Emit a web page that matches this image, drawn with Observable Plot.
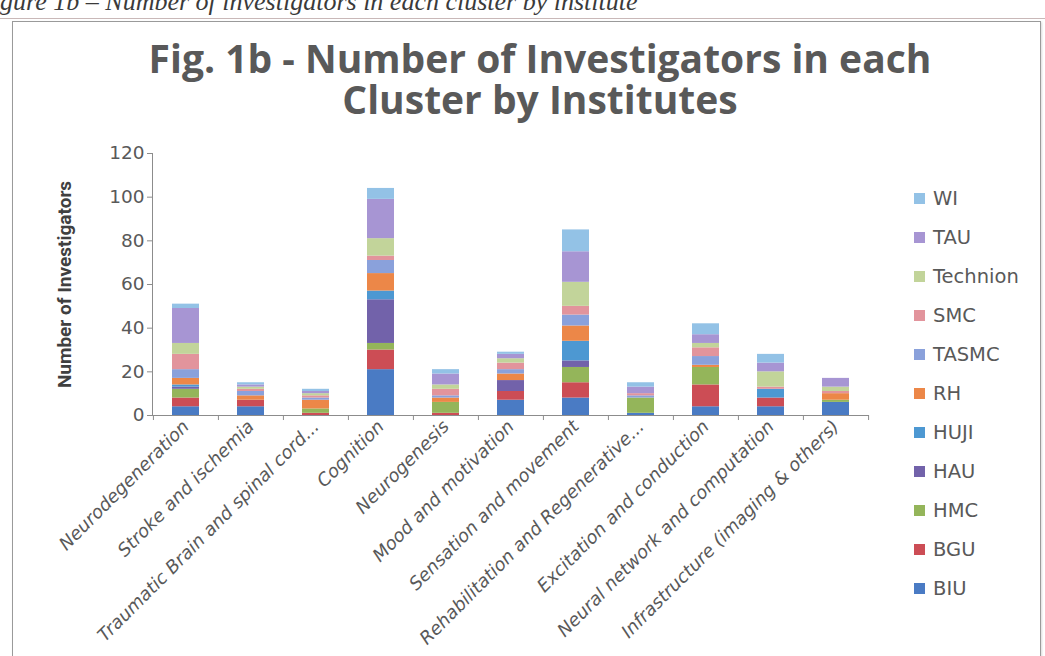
<!DOCTYPE html>
<html>
<head>
<meta charset="utf-8">
<script src="https://cdn.jsdelivr.net/npm/d3@7"></script>
<script src="https://cdn.jsdelivr.net/npm/@observablehq/plot@0.6"></script>
<style>
  html, body { margin: 0; padding: 0; background: #fff; }
  #page { position: relative; width: 1045px; height: 656px; overflow: hidden; background: #fff; }
  #doc-caption {
    position: absolute; left: -23px; top: -11px; white-space: nowrap;
    font-family: "Liberation Serif", "DejaVu Serif", serif; font-style: italic;
    font-size: 26px; line-height: 26px; color: #3a3a3a;
  }
  #doc-rule { position: absolute; left: 0; top: 18px; width: 1045px; height: 1px; background: #c9b8b8; }
  #frame { position: absolute; left: 12px; top: 21px; width: 1027px; height: 700px; border: 1px solid #9a9a9a; box-shadow: 1px 1px 2px rgba(0,0,0,0.15); }
  .title-line {
    position: absolute; left: 40px; width: 1000px; text-align: center; white-space: nowrap;
    font-family: "Open Sans", sans-serif; font-weight: 700; font-size: 39px; line-height: 38px; color: #595959;
  }
  #chart { position: absolute; left: 0; top: 140px; }
  #legend { position: absolute; left: 914px; top: 179px; font-family: "DejaVu Sans", sans-serif; font-size: 19.5px; color: #595959; }
  .item { display: flex; align-items: center; height: 39px; white-space: nowrap; }
  .sw { width: 11px; height: 11px; margin-right: 8px; }
</style>
</head>
<body>
<div id="page">
  <div id="doc-caption">Figure 1b – Number of investigators in each cluster by institute</div>
  <div id="doc-rule"></div>
  <div id="frame"></div>
  <div class="title-line" style="top:39px">Fig. 1b - Number of Investigators in each</div>
  <div class="title-line" style="top:80px">Cluster by Institutes</div>
  <div id="chart"></div>
  <div id="legend"></div>
</div>
<script>
// Research clusters along the x axis
const clusters = [
  "Neurodegeneration",
  "Stroke and ischemia",
  "Traumatic Brain and spinal cord...",
  "Cognition",
  "Neurogenesis",
  "Mood and motivation",
  "Sensation and movement",
  "Rehabilitation and Regenerative...",
  "Excitation and conduction",
  "Neural network and computation",
  "Infrastructure (imaging & others)"
];

// Institutes, in stacking order (bottom to top)
const institutes = ["BIU", "BGU", "HMC", "HAU", "HUJI", "RH", "TASMC", "SMC", "Technion", "TAU", "WI"];
const instituteColors = ["#4a7bc4", "#cc4d55", "#94b55a", "#7262aa", "#4d98d2", "#ec8748", "#8aa1db", "#e2949c", "#c2d49a", "#a795d3", "#93c2e6"];

// Investigators per cluster, one array per institute
const BIU      = [4, 4, 0, 21, 0, 7, 8, 1, 4, 4, 6];
const BGU      = [4, 3, 1, 9, 1, 4, 7, 0, 10, 4, 0];
const HMC      = [4, 0, 2, 3, 5, 0, 7, 7, 8, 0, 1];
const HAU      = [1, 0, 0, 20, 0, 5, 3, 0, 0, 0, 0];
const HUJI     = [1, 0, 0, 4, 0, 0, 9, 0, 0, 4, 0];
const RH       = [3, 2, 4, 8, 2, 3, 7, 0, 1, 0, 3];
const TASMC    = [4, 2, 1, 6, 1, 2, 5, 1, 4, 0, 0];
const SMC      = [7, 1, 1, 2, 3, 3, 4, 1, 4, 1, 1];
const Technion = [5, 1, 1, 8, 2, 2, 11, 0, 2, 7, 2];
const TAU      = [16, 1, 1, 18, 5, 2, 14, 3, 4, 4, 4];
const WI       = [2, 1, 1, 5, 2, 1, 10, 2, 5, 4, 0];

const yTicks = [0, 20, 40, 60, 80, 100, 120];
const yLabel = "Number of Investigators";

const series = {BIU, BGU, HMC, HAU, HUJI, RH, TASMC, SMC, Technion, TAU, WI};
const rows = institutes.flatMap(inst =>
  clusters.map((c, i) => ({cluster: c, institute: inst, value: series[inst][i]}))
);

const W = 900, H = 516;
const mL = 152, mR = 31, mT = 13, mB = 241;
const step = (W - mL - mR) / clusters.length;
const axisColor = "#8c8c8c";
const textColor = "#595959";

const chart = Plot.plot({
  width: W,
  height: H,
  marginLeft: mL,
  marginRight: mR,
  marginTop: mT,
  marginBottom: mB,
  style: {fontFamily: "DejaVu Sans, sans-serif", fontSize: "18.5px", color: textColor, background: "transparent", overflow: "visible"},
  x: {domain: clusters, paddingInner: 0.59, paddingOuter: 0.295, label: null},
  y: {domain: [0, 120], label: null},
  color: {domain: institutes, range: instituteColors},
  marks: [
    Plot.barY(rows, {x: "cluster", y: "value", fill: "institute"}),
    Plot.axisY({ticks: yTicks, tickSize: 5, tickPadding: 3, stroke: axisColor, fill: textColor, label: null}),
    Plot.axisX({tickSize: 0, tickPadding: 8, tickRotate: -45, fill: textColor, fontStyle: "italic", fontSize: 18, label: null}),
    Plot.frame({anchor: "left", stroke: axisColor}),
    Plot.ruleY([0], {stroke: axisColor}),
    // category boundary ticks below the baseline
    Plot.ruleX(clusters, {x: d => d, dx: -step / 2, y1: 0, y2: -2.3, stroke: axisColor}),
    Plot.ruleX(clusters.slice(-1), {x: d => d, dx: step / 2, y1: 0, y2: -2.3, stroke: axisColor}),
    Plot.text([yLabel], {frameAnchor: "left", textAnchor: "middle", rotate: -90, dx: -88, fontWeight: "bold", fontSize: 19, fill: "#404040", fontFamily: "Liberation Sans Narrow, Roboto, sans-serif"})
  ]
});
document.getElementById("chart").appendChild(chart);

// Legend: top entry is the last stacked series
const legend = d3.select("#legend");
institutes.slice().reverse().forEach(inst => {
  const item = legend.append("div").attr("class", "item");
  item.append("div").attr("class", "sw").style("background", instituteColors[institutes.indexOf(inst)]);
  item.append("span").text(inst);
});
</script>
</body>
</html>
